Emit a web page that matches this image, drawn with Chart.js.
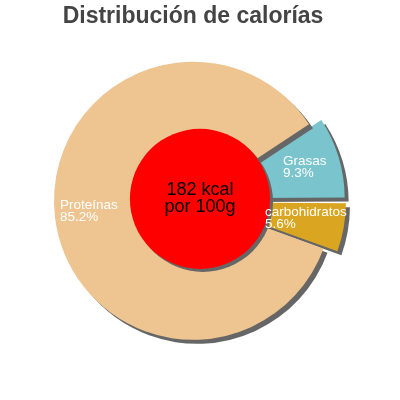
<!DOCTYPE html>
<html>
<head>
<meta charset="utf-8">
<script src="https://cdn.jsdelivr.net/npm/chart.js@4.4.1/dist/chart.umd.min.js"></script>
<style>
    html, body { margin: 0; padding: 0; background: #fff; }
    #wrap { width: 400px; height: 400px; }
</style>
</head>
<body>
<div id="wrap"><canvas id="calChart"></canvas></div>
<script>
// data, in drawing order (starting at the top edge of Grasas, clockwise)
const labels = ['Grasas', 'carbohidratos', 'Proteínas'];
const percents = [9.3, 5.6, 85.2];
const centreLines = ['182 kcal', 'por 100g'];
const titleText = 'Distribución de calorías';

const sliceColors = ['#7AC5CD', '#DAA520', '#EEC591'];
const shadowColor = '#666666';
const fontFamily = '"Liberation Sans", Arial, Helvetica, sans-serif';

// label anchors (left edge, middle of the two lines) in units of the pie radius
const labelAnchor = {
    'Grasas': [0.647, -0.243],
    'carbohidratos': [0.518, 0.127],
    'Proteínas': [-0.957, 0.077]
};

const total = percents.reduce((a, b) => a + b, 0);
// the Grasas / carbohidratos boundary sits on the horizontal, pointing right
const rotation = 90 - percents[0] / total * 360;

const pieDecor = {
    id: 'pieDecor',
    beforeDatasetsDraw(chart) {
        const ctx = chart.ctx;
        ctx.save();
        ctx.shadowColor = shadowColor;
        ctx.shadowOffsetX = 4;
        ctx.shadowOffsetY = 4;
        ctx.shadowBlur = 0;
    },
    afterDatasetsDraw(chart) {
        const ctx = chart.ctx;
        ctx.restore();

        const arcs = chart.getDatasetMeta(0).data;
        const cx = arcs[0].x;
        const cy = arcs[0].y;
        const r = arcs[0].outerRadius;

        // red centre disc
        const hx = cx + 0.05 * r;
        const hy = cy - 0.014 * r;
        ctx.save();
        ctx.shadowColor = shadowColor;
        ctx.shadowOffsetX = 3;
        ctx.shadowOffsetY = 3;
        ctx.beginPath();
        ctx.arc(hx, hy, 0.504 * r, 0, Math.PI * 2);
        ctx.fillStyle = '#FF0000';
        ctx.fill();
        ctx.restore();

        ctx.save();
        ctx.fillStyle = '#000';
        ctx.font = '18px ' + fontFamily;
        ctx.textAlign = 'center';
        ctx.textBaseline = 'middle';
        ctx.fillText(centreLines[0], hx, hy - 9.2);
        ctx.fillText(centreLines[1], hx, hy + 8);

        // slice labels
        ctx.fillStyle = '#FFFFFF';
        ctx.font = '13.5px ' + fontFamily;
        ctx.textAlign = 'left';
        labels.forEach((lab, i) => {
            const a = labelAnchor[lab];
            const x = cx + a[0] * r;
            const y = cy + a[1] * r;
            ctx.fillText(lab, x, y - 6);
            ctx.fillText(percents[i].toFixed(1) + '%', x, y + 6);
        });
        ctx.restore();
    }
};

new Chart(document.getElementById('calChart'), {
    type: 'pie',
    data: {
        labels: labels,
        datasets: [{
            data: percents,
            backgroundColor: sliceColors,
            borderWidth: 0,
            offset: [36, 34, 0],
            radius: 139
        }]
    },
    options: {
        responsive: true,
        maintainAspectRatio: false,
        animation: false,
        events: [],
        rotation: rotation,
        layout: {
            padding: { left: 0, right: 14, top: 0, bottom: 29 }
        },
        plugins: {
            legend: { display: false },
            tooltip: { enabled: false },
            title: {
                display: true,
                text: titleText,
                color: '#444444',
                font: { family: fontFamily, size: 23, weight: 'bold', lineHeight: 1.2 },
                padding: { top: 3, bottom: 0 }
            }
        }
    },
    plugins: [pieDecor]
});
</script>
</body>
</html>
